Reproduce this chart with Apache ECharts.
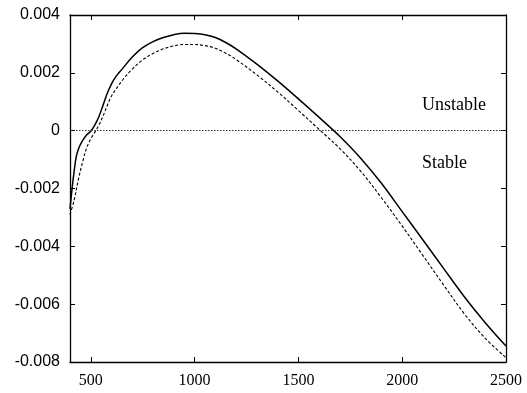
<!DOCTYPE html>
<html>
<head>
<meta charset="utf-8">
<script src="https://cdn.jsdelivr.net/npm/echarts@6/dist/echarts.min.js"></script>
<style>
html,body{margin:0;padding:0;background:#fff;}
#chart{width:527px;height:393px;}
</style>
</head>
<body>
<div id="chart"></div>
<script>
const xSolid = [400,410,420,430,440,450,460,480,500,520,540,560,580,600,620,650,700,750,800,850,900,950,1000,1050,1100,1150,1200,1300,1400,1500,1600,1700,1800,1900,2000,2100,2200,2300,2400,2500];
const ySolid = [-0.0027,-0.0020,-0.0014,-0.0009,-0.00065,-0.00048,-0.00035,-0.00015,-0.00002,0.0002,0.0005,0.0009,0.0013,0.00162,0.00186,0.00212,0.00255,0.00287,0.00308,0.00322,0.00332,0.00337,0.00336,0.00332,0.00322,0.00305,0.00283,0.0023,0.00172,0.0011,0.00046,-0.0002,-0.00095,-0.00182,-0.0028,-0.00378,-0.00477,-0.00575,-0.00664,-0.00745];

const xDashed = [400,420,440,460,480,500,520,540,560,580,600,650,700,750,800,850,900,950,1000,1050,1100,1150,1200,1300,1400,1500,1600,1700,1800,1900,2000,2100,2200,2300,2400,2500];
const yDashed = [-0.0029,-0.0024,-0.0017,-0.0011,-0.0006,-0.00028,-0.00005,0.0002,0.00052,0.00088,0.0012,0.00172,0.00213,0.00245,0.00267,0.00283,0.00293,0.00298,0.00298,0.00294,0.00285,0.00268,0.00246,0.00193,0.00134,0.0007,0.00004,-0.00062,-0.0014,-0.00232,-0.0033,-0.00432,-0.00534,-0.00634,-0.00718,-0.00785];

const xTicks = [500,1000,1500,2000,2500];
const xRange = [400,2500];
const yRange = [-0.008,0.004];
const yStep = 0.002;
const regionLabels = ['Unstable','Stable'];

const pair = (xs, ys) => xs.map((x,i)=>[x, ys[i]]);

const chart = echarts.init(document.getElementById('chart'), null, {renderer:'canvas'});
const axisLine = {show:true, onZero:false, lineStyle:{color:'#000', width:1.3}};
const fmtY = v => Math.abs(v) < 1e-9 ? '0' : v.toFixed(3);

chart.setOption({
  animation:false,
  backgroundColor:'#fff',
  grid:{left:70, right:21, top:15, bottom:31, containLabel:false},
  xAxis:[
    {type:'value', min:xRange[0], max:xRange[1], position:'bottom',
     axisLine:axisLine,
     axisTick:{show:true, inside:true, length:5, customValues:xTicks, lineStyle:{color:'#000'}},
     axisLabel:{show:true, customValues:xTicks, margin:11, color:'#000', fontFamily:'Liberation Serif', fontSize:16, formatter:v=>String(v)},
     splitLine:{show:false}},
    {type:'value', min:xRange[0], max:xRange[1], position:'top',
     axisLine:axisLine,
     axisTick:{show:true, inside:true, length:5, customValues:xTicks, lineStyle:{color:'#000'}},
     axisLabel:{show:false}, splitLine:{show:false}}
  ],
  yAxis:[
    {type:'value', min:yRange[0], max:yRange[1], interval:yStep, position:'left',
     axisLine:axisLine,
     axisTick:{show:true, inside:true, length:5, lineStyle:{color:'#000'}},
     axisLabel:{show:true, margin:10, color:'#000', fontFamily:'Liberation Sans', fontSize:16, formatter:fmtY},
     splitLine:{show:false}},
    {type:'value', min:yRange[0], max:yRange[1], interval:yStep, position:'right',
     axisLine:axisLine,
     axisTick:{show:true, inside:true, length:5, lineStyle:{color:'#000'}},
     axisLabel:{show:false}, splitLine:{show:false}}
  ],
  series:[
    {type:'line', name:'solid', data:pair(xSolid,ySolid), smooth:0.35, showSymbol:false,
     lineStyle:{color:'#000', width:1.5, type:'solid'},
     markLine:{silent:true, symbol:'none', label:{show:false},
       lineStyle:{color:'#333', width:1, type:[1.5,1.5]},
       data:[{yAxis:0}]}},
    {type:'line', name:'dashed', data:pair(xDashed,yDashed), smooth:0.35, showSymbol:false,
     lineStyle:{color:'#000', width:1.1, type:[3,2]}}
  ],
  graphic:[
    {type:'text', left:422, top:96, style:{text:regionLabels[0], fontFamily:'Liberation Serif', fontSize:18, fill:'#000'}},
    {type:'text', left:422, top:154, style:{text:regionLabels[1], fontFamily:'Liberation Serif', fontSize:18, fill:'#000'}}
  ]
});
</script>
</body>
</html>
